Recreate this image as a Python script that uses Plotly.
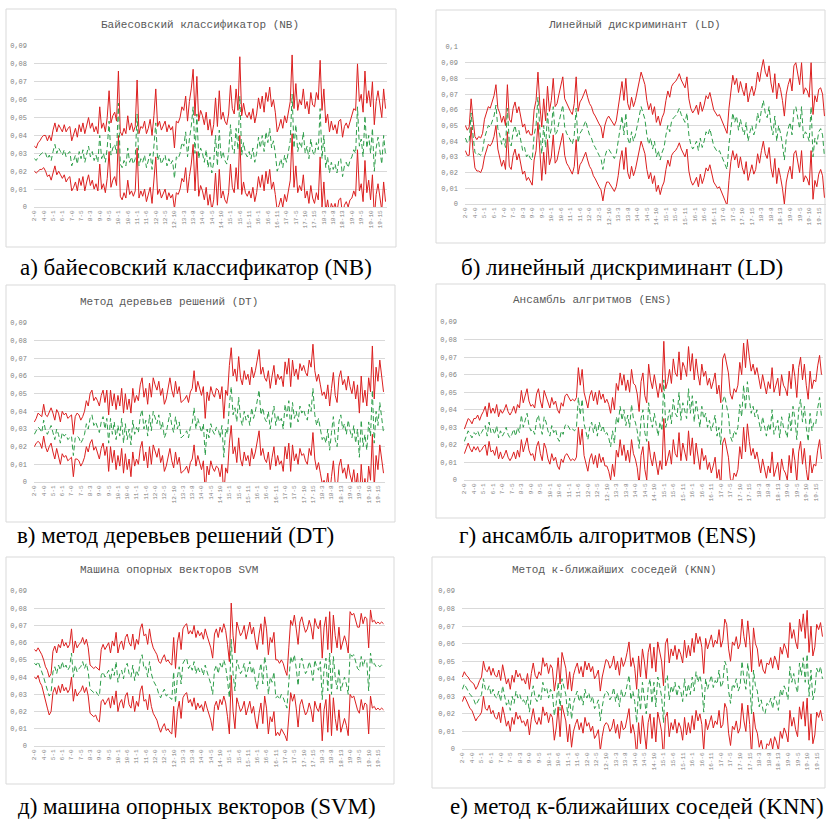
import plotly.graph_objects as go

# ---------------- categories / tick labels ----------------
categories = [f"{a}-{b}" for a in range(2, 20) for b in range(a)]   # 189 pairs
tick_labels = categories[::5]
ytick_09 = [0, 0.01, 0.02, 0.03, 0.04, 0.05, 0.06, 0.07, 0.08, 0.09]
ytext_09 = ["0", "0,01", "0,02", "0,03", "0,04", "0,05", "0,06", "0,07", "0,08", "0,09"]
ytick_10 = [0, 0.01, 0.02, 0.03, 0.04, 0.05, 0.06, 0.07, 0.08, 0.09, 0.1]
ytext_10 = ["0", "0,01", "0,02", "0,03", "0,04", "0,05", "0,06", "0,07", "0,08", "0,09", "0,1"]

# ---------------- data: mean (green) and half-width of interval (red = mean +/- hw) ----------------
nb_mean = [
0.027,0.026,0.028,0.029,0.030,0.031,0.030,0.027,0.029,0.026,
0.031,0.035,0.030,0.033,0.031,0.029,0.032,0.028,0.030,0.031,
0.023,0.026,0.029,0.024,0.031,0.027,0.032,0.025,0.030,0.034,
0.028,0.031,0.026,0.029,0.025,0.040,0.027,0.030,0.025,0.033,
0.048,0.029,0.033,0.035,0.030,0.058,0.024,0.022,0.026,0.023,
0.033,0.025,0.028,0.024,0.027,0.052,0.023,0.027,0.025,0.029,
0.022,0.026,0.030,0.021,0.032,0.047,0.026,0.029,0.024,0.027,
0.029,0.023,0.027,0.024,0.026,0.016,0.028,0.027,0.030,0.036,
0.034,0.042,0.028,0.038,0.045,0.056,0.030,0.052,0.027,0.033,
0.030,0.025,0.032,0.022,0.028,0.019,0.025,0.040,0.023,0.043,
0.027,0.031,0.026,0.024,0.030,0.046,0.033,0.030,0.044,0.032,
0.062,0.029,0.036,0.030,0.028,0.031,0.027,0.033,0.025,0.030,
0.039,0.033,0.040,0.031,0.042,0.036,0.044,0.033,0.037,0.030,
0.020,0.023,0.027,0.022,0.029,0.025,0.030,0.037,0.063,0.033,
0.046,0.031,0.036,0.033,0.042,0.030,0.034,0.027,0.038,0.031,
0.029,0.036,0.032,0.055,0.027,0.040,0.022,0.028,0.019,0.025,
0.021,0.024,0.019,0.026,0.027,0.017,0.023,0.025,0.022,0.026,
0.028,0.032,0.030,0.056,0.034,0.038,0.028,0.051,0.033,0.040,
0.030,0.044,0.020,0.033,0.039,0.031,0.024,0.040,0.029]
nb_hw = [
0.007,0.007,0.008,0.008,0.009,0.009,0.010,0.010,0.011,0.011,
0.012,0.012,0.012,0.013,0.013,0.013,0.014,0.014,0.014,0.014,
0.014,0.015,0.015,0.015,0.015,0.015,0.015,0.016,0.016,0.016,
0.016,0.016,0.016,0.016,0.016,0.016,0.017,0.017,0.017,0.017,
0.017,0.018,0.018,0.018,0.018,0.018,0.018,0.018,0.018,0.018,
0.018,0.018,0.019,0.018,0.018,0.019,0.018,0.018,0.019,0.019,
0.019,0.018,0.019,0.019,0.019,0.019,0.019,0.019,0.019,0.019,
0.019,0.019,0.019,0.019,0.019,0.017,0.020,0.020,0.020,0.020,
0.020,0.020,0.020,0.021,0.021,0.021,0.021,0.021,0.021,0.021,
0.021,0.021,0.021,0.021,0.021,0.021,0.021,0.021,0.022,0.022,
0.022,0.022,0.022,0.022,0.022,0.022,0.022,0.022,0.022,0.022,
0.022,0.022,0.022,0.022,0.022,0.022,0.022,0.022,0.022,0.022,
0.022,0.022,0.022,0.022,0.022,0.023,0.023,0.023,0.023,0.023,
0.022,0.022,0.022,0.022,0.022,0.022,0.022,0.022,0.022,0.022,
0.023,0.023,0.024,0.024,0.024,0.025,0.025,0.025,0.026,0.026,
0.027,0.028,0.028,0.027,0.027,0.026,0.025,0.024,0.023,0.023,
0.022,0.022,0.022,0.022,0.022,0.022,0.022,0.022,0.022,0.022,
0.023,0.023,0.024,0.024,0.025,0.025,0.025,0.025,0.025,0.025,
0.026,0.026,0.026,0.026,0.026,0.026,0.026,0.026,0.026]

ld_mean = [
0.042,0.039,0.040,0.058,0.044,0.033,0.031,0.032,0.031,0.034,
0.042,0.047,0.050,0.049,0.052,0.056,0.063,0.048,0.044,0.038,
0.042,0.036,0.061,0.039,0.037,0.046,0.050,0.043,0.047,0.040,
0.034,0.036,0.030,0.032,0.029,0.028,0.044,0.050,0.068,0.047,
0.032,0.050,0.036,0.058,0.042,0.048,0.062,0.044,0.046,0.052,
0.058,0.063,0.049,0.045,0.043,0.040,0.038,0.044,0.061,0.039,
0.045,0.047,0.050,0.053,0.048,0.044,0.042,0.038,0.036,0.033,
0.031,0.029,0.022,0.030,0.034,0.035,0.033,0.031,0.029,0.032,
0.040,0.050,0.056,0.044,0.058,0.042,0.038,0.046,0.040,0.044,
0.050,0.056,0.062,0.058,0.054,0.044,0.038,0.042,0.035,0.040,
0.030,0.034,0.028,0.033,0.036,0.044,0.050,0.046,0.053,0.055,
0.056,0.058,0.061,0.057,0.054,0.052,0.058,0.044,0.038,0.035,
0.037,0.040,0.034,0.042,0.036,0.040,0.046,0.044,0.048,0.042,
0.037,0.035,0.033,0.034,0.031,0.027,0.024,0.022,0.038,0.050,
0.058,0.052,0.056,0.047,0.054,0.048,0.044,0.052,0.040,0.046,
0.050,0.044,0.048,0.058,0.052,0.060,0.066,0.058,0.055,0.062,
0.050,0.044,0.056,0.040,0.050,0.045,0.038,0.028,0.042,0.048,
0.052,0.044,0.060,0.062,0.054,0.048,0.062,0.042,0.046,0.044,
0.040,0.062,0.030,0.042,0.038,0.046,0.048,0.044,0.030]
ld_hw = [
0.008,0.008,0.009,0.009,0.010,0.010,0.010,0.011,0.011,0.011,
0.012,0.012,0.012,0.012,0.013,0.013,0.013,0.013,0.014,0.014,
0.014,0.014,0.015,0.015,0.015,0.015,0.015,0.015,0.015,0.015,
0.015,0.015,0.015,0.015,0.015,0.016,0.016,0.016,0.016,0.016,
0.017,0.017,0.017,0.017,0.017,0.018,0.018,0.018,0.018,0.018,
0.018,0.018,0.018,0.019,0.019,0.019,0.019,0.020,0.020,0.020,
0.020,0.020,0.020,0.020,0.020,0.020,0.020,0.020,0.020,0.020,
0.020,0.020,0.020,0.020,0.020,0.021,0.021,0.021,0.021,0.021,
0.022,0.022,0.022,0.022,0.022,0.022,0.022,0.022,0.022,0.022,
0.022,0.022,0.022,0.022,0.022,0.022,0.022,0.022,0.022,0.022,
0.022,0.022,0.022,0.022,0.022,0.022,0.022,0.022,0.022,0.022,
0.022,0.022,0.022,0.022,0.022,0.022,0.023,0.023,0.023,0.023,
0.023,0.023,0.023,0.023,0.023,0.023,0.023,0.023,0.023,0.023,
0.023,0.023,0.023,0.023,0.023,0.023,0.023,0.023,0.023,0.023,
0.024,0.024,0.024,0.024,0.024,0.025,0.025,0.025,0.025,0.025,
0.025,0.025,0.026,0.026,0.026,0.026,0.026,0.026,0.026,0.026,
0.027,0.027,0.027,0.027,0.027,0.028,0.028,0.028,0.028,0.028,
0.028,0.028,0.028,0.028,0.028,0.028,0.028,0.028,0.028,0.028,
0.028,0.028,0.027,0.027,0.027,0.027,0.026,0.026,0.026]

dt_mean = [
0.027,0.029,0.031,0.030,0.028,0.035,0.029,0.027,0.030,0.032,
0.028,0.024,0.030,0.027,0.022,0.028,0.026,0.027,0.024,0.025,
0.026,0.015,0.025,0.026,0.025,0.022,0.024,0.027,0.033,0.030,
0.036,0.038,0.032,0.034,0.031,0.028,0.034,0.037,0.030,0.036,
0.022,0.036,0.027,0.034,0.024,0.032,0.026,0.036,0.022,0.033,
0.024,0.030,0.021,0.035,0.027,0.031,0.028,0.037,0.041,0.030,
0.035,0.026,0.038,0.029,0.040,0.036,0.033,0.038,0.030,0.034,
0.025,0.028,0.034,0.039,0.032,0.028,0.037,0.030,0.034,0.025,
0.026,0.027,0.029,0.025,0.031,0.033,0.042,0.030,0.036,0.032,
0.028,0.033,0.015,0.030,0.025,0.033,0.029,0.027,0.031,0.030,
0.025,0.032,0.014,0.030,0.027,0.044,0.054,0.038,0.042,0.034,
0.048,0.036,0.032,0.040,0.035,0.038,0.032,0.042,0.036,0.040,
0.045,0.052,0.038,0.042,0.036,0.034,0.040,0.030,0.037,0.043,
0.032,0.038,0.034,0.036,0.030,0.044,0.037,0.046,0.030,0.045,
0.036,0.040,0.034,0.043,0.039,0.041,0.037,0.035,0.044,0.040,
0.053,0.038,0.032,0.036,0.030,0.024,0.026,0.022,0.030,0.018,
0.028,0.037,0.024,0.020,0.034,0.038,0.030,0.033,0.027,0.035,
0.029,0.025,0.032,0.022,0.030,0.014,0.035,0.020,0.027,0.018,
0.034,0.026,0.052,0.022,0.040,0.032,0.045,0.036,0.028]
dt_hw = [
0.007,0.007,0.008,0.008,0.009,0.009,0.009,0.010,0.010,0.010,
0.011,0.011,0.011,0.012,0.012,0.012,0.012,0.012,0.012,0.012,
0.012,0.012,0.012,0.013,0.013,0.013,0.013,0.013,0.013,0.013,
0.014,0.014,0.014,0.014,0.015,0.015,0.015,0.015,0.015,0.016,
0.016,0.016,0.016,0.016,0.017,0.017,0.017,0.017,0.017,0.017,
0.017,0.017,0.018,0.018,0.018,0.018,0.018,0.018,0.018,0.018,
0.018,0.018,0.018,0.019,0.019,0.019,0.019,0.019,0.019,0.019,
0.019,0.019,0.020,0.020,0.020,0.020,0.020,0.020,0.020,0.020,
0.020,0.020,0.020,0.020,0.020,0.020,0.021,0.021,0.021,0.021,
0.021,0.021,0.021,0.021,0.021,0.021,0.021,0.021,0.022,0.022,
0.022,0.022,0.022,0.022,0.022,0.022,0.022,0.022,0.022,0.023,
0.023,0.023,0.023,0.023,0.023,0.023,0.023,0.023,0.023,0.023,
0.023,0.023,0.023,0.023,0.023,0.023,0.023,0.023,0.023,0.023,
0.023,0.023,0.024,0.024,0.024,0.024,0.024,0.024,0.024,0.024,
0.024,0.024,0.024,0.024,0.024,0.025,0.025,0.025,0.025,0.025,
0.025,0.025,0.025,0.025,0.025,0.025,0.025,0.025,0.025,0.025,
0.025,0.025,0.025,0.025,0.025,0.025,0.025,0.025,0.025,0.025,
0.025,0.025,0.025,0.025,0.025,0.025,0.025,0.025,0.025,0.025,
0.025,0.025,0.025,0.025,0.025,0.025,0.024,0.024,0.023]

ens_mean = [
0.022,0.025,0.028,0.026,0.024,0.027,0.026,0.028,0.025,0.027,
0.029,0.031,0.025,0.033,0.027,0.029,0.026,0.031,0.024,0.028,
0.025,0.027,0.030,0.026,0.024,0.026,0.029,0.025,0.030,0.027,
0.037,0.030,0.034,0.038,0.031,0.028,0.029,0.026,0.034,0.037,
0.030,0.026,0.036,0.033,0.028,0.025,0.031,0.027,0.029,0.024,
0.022,0.028,0.026,0.031,0.032,0.030,0.028,0.029,0.028,0.030,
0.047,0.037,0.046,0.032,0.028,0.023,0.030,0.033,0.027,0.032,
0.025,0.033,0.028,0.031,0.026,0.027,0.024,0.019,0.028,0.021,
0.036,0.032,0.042,0.034,0.040,0.031,0.037,0.030,0.043,0.035,
0.033,0.028,0.018,0.035,0.040,0.027,0.022,0.044,0.035,0.030,
0.038,0.031,0.025,0.033,0.028,0.057,0.030,0.034,0.040,0.032,
0.046,0.038,0.036,0.050,0.034,0.044,0.040,0.035,0.052,0.038,
0.048,0.033,0.045,0.036,0.030,0.042,0.035,0.038,0.030,0.034,
0.028,0.032,0.037,0.025,0.030,0.020,0.045,0.048,0.042,0.037,
0.025,0.022,0.028,0.026,0.030,0.043,0.036,0.054,0.040,0.056,
0.046,0.038,0.042,0.036,0.040,0.033,0.028,0.036,0.030,0.025,
0.032,0.028,0.040,0.026,0.030,0.034,0.024,0.036,0.030,0.028,
0.024,0.038,0.028,0.042,0.035,0.023,0.040,0.046,0.033,0.042,
0.030,0.022,0.038,0.028,0.033,0.032,0.041,0.047,0.036]
ens_hw = [
0.007,0.007,0.007,0.008,0.008,0.008,0.009,0.009,0.009,0.010,
0.010,0.011,0.011,0.011,0.011,0.012,0.012,0.012,0.012,0.012,
0.013,0.013,0.013,0.013,0.013,0.013,0.013,0.013,0.013,0.014,
0.014,0.014,0.014,0.014,0.014,0.014,0.014,0.015,0.015,0.015,
0.015,0.015,0.015,0.015,0.016,0.016,0.016,0.016,0.016,0.016,
0.016,0.016,0.016,0.017,0.017,0.017,0.017,0.017,0.017,0.017,
0.017,0.017,0.017,0.018,0.018,0.018,0.018,0.018,0.018,0.018,
0.018,0.018,0.018,0.018,0.018,0.019,0.019,0.019,0.019,0.019,
0.019,0.019,0.019,0.020,0.020,0.020,0.020,0.020,0.020,0.020,
0.021,0.021,0.021,0.021,0.021,0.021,0.022,0.022,0.022,0.022,
0.022,0.022,0.022,0.022,0.022,0.022,0.022,0.022,0.023,0.023,
0.023,0.023,0.023,0.023,0.023,0.023,0.024,0.024,0.024,0.024,
0.024,0.024,0.024,0.024,0.024,0.024,0.024,0.024,0.024,0.024,
0.024,0.024,0.024,0.024,0.024,0.024,0.024,0.024,0.024,0.024,
0.024,0.024,0.024,0.024,0.024,0.024,0.024,0.024,0.024,0.024,
0.024,0.024,0.024,0.024,0.024,0.024,0.024,0.024,0.024,0.024,
0.024,0.024,0.024,0.024,0.024,0.024,0.024,0.024,0.024,0.024,
0.024,0.024,0.024,0.024,0.024,0.024,0.024,0.024,0.024,0.024,
0.024,0.024,0.024,0.024,0.024,0.024,0.024,0.024,0.024]

svm_mean = [
0.048,0.047,0.049,0.046,0.044,0.040,0.036,0.033,0.029,0.031,
0.043,0.046,0.042,0.047,0.044,0.049,0.045,0.047,0.044,0.046,
0.054,0.040,0.047,0.043,0.045,0.046,0.049,0.045,0.048,0.043,
0.033,0.032,0.031,0.032,0.030,0.029,0.041,0.043,0.040,0.042,
0.044,0.038,0.045,0.041,0.049,0.037,0.042,0.044,0.039,0.046,
0.048,0.042,0.040,0.047,0.038,0.044,0.041,0.050,0.053,0.045,
0.046,0.040,0.049,0.042,0.038,0.036,0.034,0.030,0.028,0.031,
0.033,0.029,0.030,0.028,0.027,0.043,0.025,0.040,0.046,0.036,
0.048,0.050,0.051,0.045,0.047,0.044,0.049,0.042,0.046,0.043,
0.045,0.041,0.047,0.043,0.040,0.036,0.030,0.044,0.047,0.042,
0.048,0.045,0.050,0.046,0.038,0.028,0.062,0.042,0.032,0.050,
0.046,0.042,0.044,0.048,0.040,0.045,0.049,0.042,0.046,0.038,
0.033,0.042,0.048,0.036,0.052,0.045,0.030,0.040,0.037,0.043,
0.028,0.029,0.027,0.030,0.028,0.025,0.022,0.037,0.052,0.048,
0.053,0.045,0.035,0.048,0.051,0.046,0.042,0.044,0.049,0.045,
0.038,0.050,0.046,0.044,0.049,0.027,0.045,0.051,0.032,0.054,
0.030,0.052,0.040,0.033,0.045,0.032,0.037,0.040,0.036,0.030,
0.054,0.052,0.053,0.048,0.045,0.044,0.052,0.046,0.050,0.049,
0.032,0.054,0.047,0.048,0.046,0.047,0.046,0.047,0.046]
svm_hw = [
0.008,0.008,0.008,0.009,0.009,0.010,0.010,0.011,0.011,0.011,
0.012,0.012,0.012,0.012,0.013,0.013,0.013,0.013,0.013,0.013,
0.014,0.014,0.014,0.014,0.014,0.014,0.014,0.014,0.014,0.014,
0.014,0.014,0.014,0.014,0.015,0.015,0.015,0.016,0.016,0.016,
0.016,0.016,0.016,0.017,0.017,0.017,0.017,0.017,0.017,0.017,
0.017,0.018,0.018,0.018,0.018,0.018,0.018,0.018,0.018,0.019,
0.019,0.019,0.019,0.019,0.019,0.019,0.019,0.019,0.020,0.020,
0.020,0.020,0.020,0.020,0.020,0.020,0.020,0.020,0.020,0.020,
0.020,0.020,0.020,0.020,0.020,0.021,0.021,0.021,0.021,0.021,
0.021,0.021,0.021,0.021,0.021,0.021,0.021,0.021,0.021,0.021,
0.021,0.021,0.021,0.021,0.021,0.021,0.021,0.022,0.022,0.022,
0.022,0.022,0.022,0.022,0.022,0.022,0.023,0.023,0.023,0.023,
0.023,0.023,0.023,0.023,0.023,0.023,0.023,0.023,0.023,0.023,
0.022,0.021,0.021,0.020,0.020,0.019,0.019,0.020,0.021,0.022,
0.023,0.023,0.024,0.024,0.024,0.024,0.024,0.024,0.024,0.024,
0.024,0.024,0.024,0.024,0.024,0.024,0.024,0.024,0.024,0.024,
0.024,0.024,0.024,0.024,0.024,0.024,0.024,0.024,0.024,0.024,
0.024,0.024,0.024,0.024,0.024,0.025,0.025,0.025,0.025,0.025,
0.025,0.025,0.025,0.025,0.025,0.025,0.025,0.025,0.025]

knn_mean = [
0.034,0.037,0.035,0.033,0.031,0.030,0.028,0.025,0.027,0.029,
0.031,0.040,0.034,0.033,0.036,0.031,0.034,0.030,0.029,0.033,
0.027,0.036,0.031,0.025,0.028,0.022,0.030,0.026,0.033,0.029,
0.031,0.027,0.028,0.025,0.030,0.021,0.030,0.036,0.029,0.027,
0.031,0.028,0.038,0.033,0.035,0.029,0.034,0.032,0.019,0.026,
0.038,0.022,0.040,0.036,0.031,0.019,0.029,0.017,0.026,0.030,
0.033,0.027,0.031,0.025,0.034,0.029,0.032,0.027,0.030,0.023,
0.025,0.028,0.016,0.024,0.030,0.033,0.032,0.028,0.030,0.035,
0.027,0.032,0.024,0.034,0.029,0.031,0.036,0.042,0.028,0.033,
0.027,0.015,0.034,0.022,0.038,0.030,0.020,0.035,0.040,0.026,
0.038,0.024,0.041,0.036,0.030,0.015,0.039,0.042,0.028,0.036,
0.032,0.038,0.030,0.036,0.033,0.027,0.040,0.030,0.037,0.031,
0.041,0.033,0.044,0.038,0.042,0.036,0.021,0.040,0.034,0.038,
0.042,0.035,0.039,0.037,0.045,0.035,0.038,0.050,0.047,0.033,
0.026,0.037,0.035,0.040,0.033,0.036,0.050,0.040,0.034,0.049,
0.038,0.020,0.045,0.036,0.033,0.024,0.028,0.022,0.020,0.026,
0.025,0.029,0.023,0.030,0.027,0.022,0.034,0.030,0.036,0.033,
0.028,0.047,0.038,0.043,0.036,0.032,0.049,0.042,0.052,0.038,
0.054,0.030,0.045,0.028,0.033,0.046,0.043,0.047,0.040]
knn_hw = [
0.007,0.007,0.007,0.008,0.008,0.008,0.009,0.009,0.009,0.010,
0.010,0.010,0.011,0.011,0.011,0.011,0.012,0.012,0.012,0.012,
0.012,0.012,0.012,0.012,0.012,0.012,0.012,0.012,0.012,0.012,
0.012,0.012,0.012,0.012,0.013,0.013,0.013,0.013,0.013,0.013,
0.013,0.014,0.014,0.014,0.014,0.014,0.014,0.014,0.014,0.014,
0.014,0.015,0.015,0.015,0.015,0.015,0.015,0.016,0.016,0.016,
0.016,0.016,0.016,0.016,0.016,0.016,0.017,0.017,0.017,0.017,
0.017,0.017,0.017,0.017,0.017,0.018,0.018,0.018,0.018,0.018,
0.018,0.018,0.018,0.018,0.018,0.019,0.019,0.019,0.019,0.019,
0.019,0.019,0.019,0.019,0.019,0.020,0.020,0.020,0.020,0.020,
0.020,0.020,0.020,0.020,0.020,0.021,0.021,0.021,0.021,0.021,
0.021,0.021,0.021,0.021,0.021,0.022,0.022,0.022,0.022,0.022,
0.022,0.022,0.022,0.022,0.022,0.022,0.022,0.023,0.023,0.023,
0.023,0.023,0.023,0.023,0.023,0.023,0.024,0.024,0.024,0.024,
0.024,0.024,0.024,0.024,0.024,0.024,0.024,0.024,0.024,0.024,
0.024,0.024,0.024,0.024,0.024,0.023,0.023,0.023,0.023,0.023,
0.023,0.023,0.023,0.023,0.023,0.023,0.024,0.024,0.024,0.024,
0.024,0.025,0.025,0.025,0.025,0.025,0.025,0.025,0.025,0.025,
0.025,0.025,0.025,0.025,0.025,0.025,0.025,0.025,0.024]

titles = ["Байесовский классификатор (NB)", "Линейный дискриминант (LD)",
          "Метод деревьев решений (DT)", "Ансамбль алгритмов (ENS)",
          "Машина опорных векторов SVM", "Метод к-ближайших соседей (KNN)"]
captions = ["а) байесовский классификатор (NB)", "б) линейный дискриминант (LD)",
            "в) метод деревьев решений (DT)", "г) ансамбль алгоритмов (ENS)",
            "д) машина опорных векторов (SVM)", "е) метод к-ближайших соседей (KNN)"]
means = [nb_mean, ld_mean, dt_mean, ens_mean, svm_mean, knn_mean]
hws = [nb_hw, ld_hw, dt_hw, ens_hw, svm_hw, knn_hw]

# ---------------- layout geometry (pixels) ----------------
W, H = 826, 819
plot_px = [(34, 387, 46, 207), (465, 826, 47, 204),
           (34, 385, 323, 482), (464, 823, 322, 480),
           (34, 385, 591, 746), (462, 824, 591, 749)]
box_px = [(6, 396, 9, 247), (436, 825, 10, 243),
          (6, 395, 285, 522), (436, 825, 284, 518),
          (6, 394, 557, 784), (432, 825, 557, 788)]
title_px = [(200, 25), (634, 25), (169, 302), (592, 300), (169, 570), (614, 570)]
caption_px = [(196, 268), (622, 268), (175, 535), (607, 535), (197, 806), (637, 806)]

RED = "#DC1F1F"
GREEN = "#2E9E4A"
GRID = "#D9D9D9"
MONO = "Liberation Mono, Courier New, monospace"
SERIF = "Liberation Serif, Times New Roman, serif"

fx = lambda x: x / W
fy = lambda y: 1 - y / H

fig = go.Figure()
shapes, annotations = [], []
layout_axes = {}

for i in range(6):
    n = "" if i == 0 else str(i + 1)
    xa, ya = "x" + n, "y" + n
    m, h = means[i], hws[i]
    upper = [round(a + b, 4) for a, b in zip(m, h)]
    lower = [round(a - b, 4) for a, b in zip(m, h)]
    for vals, col, dash in [(lower, RED, "solid"), (upper, RED, "solid"), (m, GREEN, "5px,3px")]:
        fig.add_trace(go.Scatter(x=categories, y=vals, mode="lines", xaxis=xa, yaxis=ya,
                                 line=dict(color=col, width=1, dash=dash), showlegend=False,
                                 hoverinfo="skip"))
    x0, x1, yt, yb = plot_px[i]
    ld = (i == 1)
    layout_axes["xaxis" + n] = dict(
        domain=[fx(x0), fx(x1)], anchor=ya, type="category", automargin=False,
        range=[-0.2, 188.8], tickmode="array", tickvals=tick_labels, ticktext=tick_labels,
        tickangle=-90, tickfont=dict(family=MONO, size=6, color="#7F7F7F"),
        showgrid=False, showline=True, linecolor=GRID, linewidth=1, ticks="", zeroline=False)
    layout_axes["yaxis" + n] = dict(
        domain=[fy(yb), fy(yt)], anchor=xa, automargin=False,
        range=[0, 0.1 if ld else 0.09],
        tickmode="array", tickvals=ytick_10 if ld else ytick_09, ticktext=ytext_10 if ld else ytext_09,
        tickfont=dict(family=MONO, size=7, color="#7F7F7F"),
        showgrid=True, gridcolor=GRID, gridwidth=1, zeroline=False, showline=False,
        ticks="", ticklabelstandoff=6)
    bx0, bx1, by0, by1 = box_px[i]
    shapes.append(dict(type="rect", xref="paper", yref="paper",
                       x0=fx(bx0), x1=fx(bx1), y0=fy(by1), y1=fy(by0),
                       line=dict(color=GRID, width=1), layer="below"))
    tx, ty = title_px[i]
    annotations.append(dict(text=titles[i], x=fx(tx), y=fy(ty), xref="paper", yref="paper",
                            xanchor="center", yanchor="middle", showarrow=False,
                            font=dict(family=MONO, size=11, color="#595959")))
    cx, cy = caption_px[i]
    annotations.append(dict(text=captions[i], x=fx(cx), y=fy(cy), xref="paper", yref="paper",
                            xanchor="center", yanchor="middle", showarrow=False,
                            font=dict(family=SERIF, size=23, color="#000000")))

fig.update_layout(template="none", width=W, height=H, margin=dict(l=0, r=0, t=0, b=0, pad=0),
                  paper_bgcolor="white", plot_bgcolor="white",
                  shapes=shapes, annotations=annotations, **layout_axes)
fig.write_html("out.html", config={"displayModeBar": False},
               post_script="document.body.style.margin='0';document.body.style.overflow='hidden';")
